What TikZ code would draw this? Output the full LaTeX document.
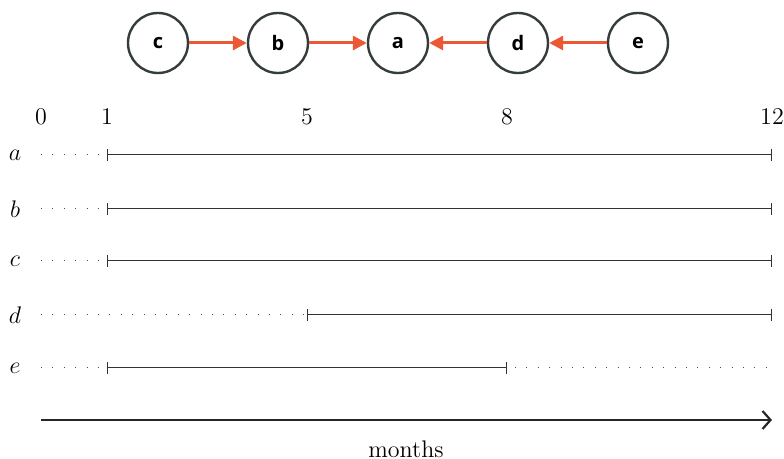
\documentclass[tikz,border=0pt]{standalone}
\usepackage{fontspec}
\newfontfamily\circlefont{Open Sans}
\usepackage{xcolor}
\definecolor{depred}{RGB}{236,88,52}
\definecolor{depgray}{RGB}{52,60,62}
\usetikzlibrary{arrows.meta, positioning}

\begin{document}
\begin{tikzpicture}[x=0.5pt, y=-0.5pt, font=\large,
    task/.style={circle, draw=depgray, line width=1.2pt, fill=white, minimum size=30pt, inner sep=0pt, font=\circlefont\fontsize{10}{12}\selectfont\bfseries},
    dep/.style={draw=depred, line width=1.5pt, -{Triangle[length=7pt, width=7pt]}},
    active/.style={line width=0.5pt, black!80, {Bar[width=6pt]}-{Bar[width=6pt]}},
    idle/.style={line width=0.5pt, black!70, dash pattern=on 0.5pt off 5.2pt}]
  \useasboundingbox (0,0) rectangle (784,459);
  % dependency chain
  \node[task] (c) at (158,43) {c};
  \node[task] (b) at (278,43) {b};
  \node[task] (a) at (398,43) {a};
  \node[task] (d) at (518,43) {d};
  \node[task] (e) at (638,43) {e};
  \draw[dep] (c) -- (b);
  \draw[dep] (b) -- (a);
  \draw[dep] (d) -- (a);
  \draw[dep] (e) -- (d);
  % month labels
  \node (m0) at (41,117) {0};
  \node (m1) at (107,117) {1};
  \node (m5) at (307,117) {5};
  \node (m8) at (507,117) {8};
  \node (m12) at (772,117) {12};
  % rows
  \foreach \name/\y in {a/155, b/209, c/261, d/315, e/368} {
    \node (l\name) at (15,\y) {$\name$};
    \coordinate (s\name) at (41,\y);
    \coordinate (o\name) at (107,\y);
    \coordinate (f\name) at (307,\y);
    \coordinate (g\name) at (507,\y);
    \coordinate (t\name) at (772,\y);
  }
  \foreach \name in {a, b, c} {
    \draw[idle] (s\name) -- ([xshift=-1]o\name);
    \draw[active] (o\name) -- (t\name);
  }
  \draw[idle] (sd) -- ([xshift=-1]fd);
  \draw[active] (fd) -- (td);
  \draw[idle] (se) -- ([xshift=-1]oe);
  \draw[active] (oe) -- (ge);
  \draw[idle] ([xshift=4]ge) -- ([xshift=-1]te);
  % time axis
  \coordinate (ax0) at (41,420);
  \coordinate (ax1) at (772,420);
  \draw[line width=1.1pt, black!85, -{Straight Barb[length=4pt, width=9pt]}] (ax0) -- (ax1);
  \node (months) at (406,449) {months};
\end{tikzpicture}
\end{document}
